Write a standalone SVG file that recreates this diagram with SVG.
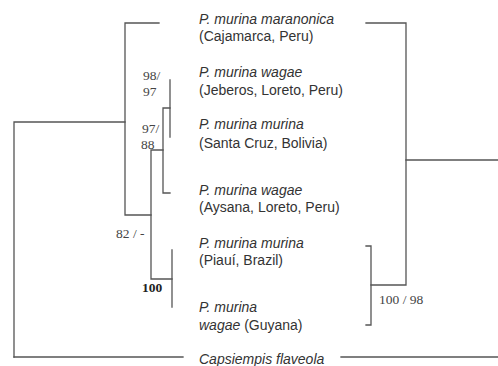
<svg xmlns="http://www.w3.org/2000/svg" width="498" height="366" viewBox="0 0 498 366">
<style>
.br{fill:none;stroke:#555;stroke-width:1.3;stroke-linecap:square}
.tx{font-family:"Liberation Sans",Arial,sans-serif;font-size:14px;fill:#333}
.it{font-style:italic}
.bs{font-family:"Liberation Serif","Times New Roman",serif;font-size:13.5px;fill:#444}
.bold{font-weight:bold;fill:#222}
</style>
<rect width="498" height="366" fill="#fff"/>
<g id="connectors" class="br">
<path d="M14,357 V122 H125"/>
<path d="M14,357 H183"/>
<path d="M159,23 H125 V215 H151"/>
<path d="M163,150 H151 V279 H172"/>
<path d="M170,108 H163 V193 H170"/>
<path d="M170,80 V137"/>
<path d="M172,250 V307"/>
<path d="M366,23 H406 V285 H371"/>
<path d="M406,160 H498"/>
<path d="M366,246 H371 V325 H366"/>
<path d="M341,357 H498"/>
</g>
<g id="support">
<text class="bs" x="143" y="80">98/</text>
<text class="bs" x="143" y="96">97</text>
<text class="bs" x="142" y="133">97/</text>
<text class="bs" x="141" y="149">88</text>
<text class="bs" x="116" y="238">82 / -</text>
<text class="bs bold" x="142" y="292">100</text>
<text class="bs" x="379" y="304">100 / 98</text>
</g>
<g id="taxon-maranonica" class="tx">
<text class="it" x="199" y="24">P. murina maranonica</text>
<text x="199" y="41">(Cajamarca, Peru)</text>
</g>
<g id="taxon-wagae-jeberos" class="tx">
<text class="it" x="199" y="77">P. murina wagae</text>
<text x="199" y="95">(Jeberos, Loreto, Peru)</text>
</g>
<g id="taxon-murina-santacruz" class="tx">
<text class="it" x="199" y="129">P. murina murina</text>
<text x="199" y="148">(Santa Cruz, Bolivia)</text>
</g>
<g id="taxon-wagae-aysana" class="tx">
<text class="it" x="199" y="195">P. murina wagae</text>
<text x="199" y="212">(Aysana, Loreto, Peru)</text>
</g>
<g id="taxon-murina-piaui" class="tx">
<text class="it" x="199" y="248">P. murina murina</text>
<text x="199" y="265">(Piauí, Brazil)</text>
</g>
<g id="taxon-wagae-guyana" class="tx">
<text class="it" x="199" y="312">P. murina</text>
<text x="199" y="330"><tspan class="it">wagae</tspan> (Guyana)</text>
</g>
<g id="taxon-capsiempis" class="tx">
<text class="it" x="199" y="364">Capsiempis flaveola</text>
</g>
</svg>
